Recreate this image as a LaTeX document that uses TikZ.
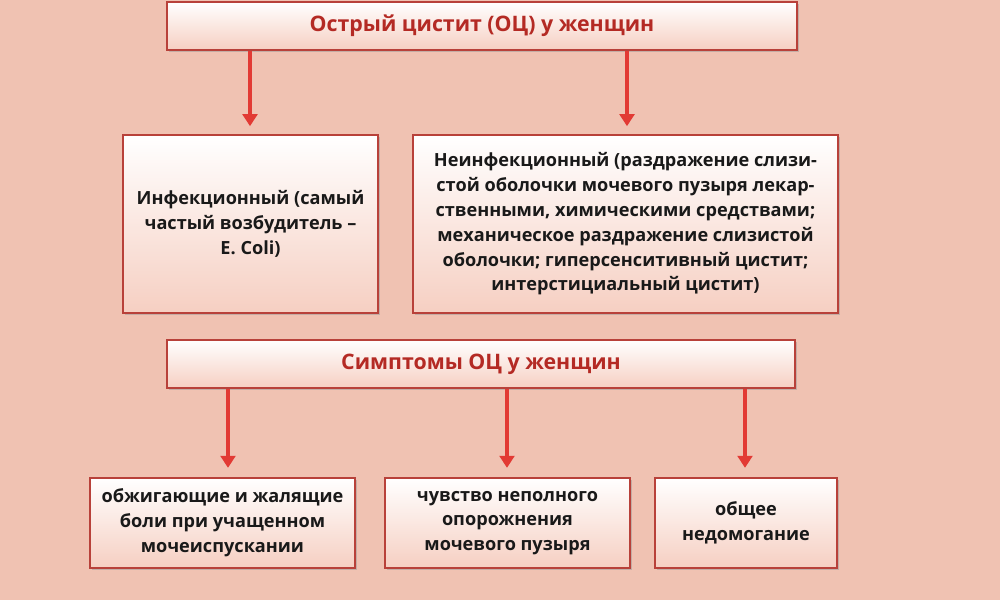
\documentclass[tikz,border=0pt]{standalone}
\usepackage{fontspec}
\setmainfont{Open Sans}
\usetikzlibrary{arrows.meta,shadows}
\definecolor{bg}{HTML}{F0C2B2}
\definecolor{bord}{HTML}{B8413A}
\definecolor{boxbot}{HTML}{F6CFC2}
\definecolor{titlered}{HTML}{B42A24}
\definecolor{arr}{HTML}{E23A34}
\tikzset{
 box/.style={draw=bord,line width=1.2pt,top color=white,bottom color=boxbot,
   drop shadow={shadow xshift=1.5pt,shadow yshift=-1.5pt,fill=black!40,opacity=0.5},
   text=black!90,font=\fontsize{13.6}{18.6}\selectfont\bfseries,align=center,inner sep=2pt},
 ttl/.style={box,text=titlered,font=\fontsize{16}{18}\selectfont\bfseries},
 arrw/.style={draw=arr,line width=2.6pt,-{Triangle[length=9pt,width=11pt]}}
}
\begin{document}
\begin{tikzpicture}[x=0.75pt,y=-0.75pt]
\fill[bg] (0,0) rectangle (1000,600);
\useasboundingbox (0,0) rectangle (1000,600);
\node[ttl,minimum width=630*0.75pt,minimum height=48*0.75pt] (t1) at (482,26) {Острый цистит (ОЦ) у женщин};
\node[box,minimum width=255*0.75pt,minimum height=178*0.75pt] (b1) at (250.5,224) {Инфекционный (самый\\частый возбудитель –\\E. Coli)};
\node[box,minimum width=425*0.75pt,minimum height=178*0.75pt] (b2) at (625.5,224) {Неинфекционный (раздражение слизи-\\стой оболочки мочевого пузыря лекар-\\ственными, химическими средствами;\\механическое раздражение слизистой\\оболочки; гиперсенситивный цистит;\\интерстициальный цистит)};
\node[ttl,minimum width=628*0.75pt,minimum height=48*0.75pt] (t2) at (481,364) {Симптомы ОЦ у женщин};
\node[box,minimum width=265*0.75pt,minimum height=90*0.75pt] (c1) at (222.5,523) {обжигающие и жалящие\\боли при учащенном\\мочеиспускании};
\node[box,minimum width=245*0.75pt,minimum height=90*0.75pt] (c2) at (507.5,523) {чувство неполного\\опорожнения\\мочевого пузыря};
\node[box,minimum width=182*0.75pt,minimum height=90*0.75pt] (c3) at (746,523) {общее\\недомогание};
\draw[arrw] (t1.south -| 250,0) -- ([yshift=6pt]b1.north -| 250,0);
\draw[arrw] (t1.south -| 627,0) -- ([yshift=6pt]b2.north -| 627,0);
\draw[arrw] (t2.south -| 228,0) -- ([yshift=7pt]c1.north -| 228,0);
\draw[arrw] (t2.south -| 507,0) -- ([yshift=7pt]c2.north -| 507,0);
\draw[arrw] (t2.south -| 745,0) -- ([yshift=7pt]c3.north -| 745,0);
\end{tikzpicture}
\end{document}
